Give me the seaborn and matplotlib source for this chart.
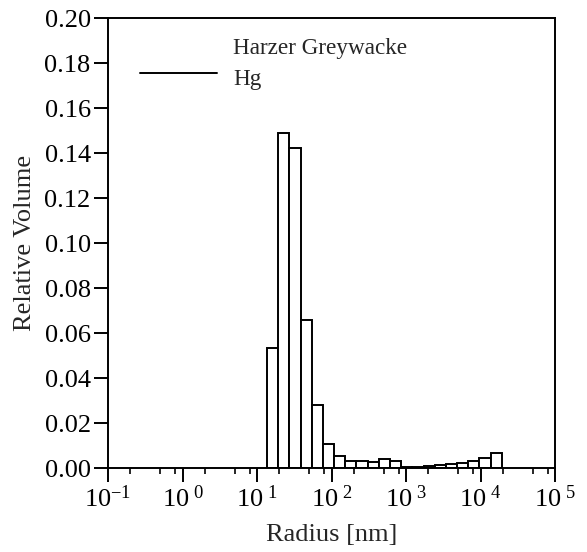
"""Relative volume pore-radius distribution, Harzer Greywacke (Hg porosimetry)."""

import matplotlib
matplotlib.use("Agg")
import matplotlib.pyplot as plt
from matplotlib.legend_handler import HandlerLine2D
from matplotlib.lines import Line2D
from matplotlib.ticker import FixedLocator, FixedFormatter
import numpy as np
import seaborn as sns


# bin edges in nm (log bins, ~sqrt(2) ratio) and relative volume per bin
bin_edges_nm = [13.65, 19.28, 27.23, 38.46, 54.33, 76.74, 108.4, 153.1, 216.3,
                305.5, 431.5, 609.5, 861.0, 1216.0, 1718.0, 2427.0, 3428.0,
                4842.0, 6839.0, 9661.0, 13646.0, 19275.0]
rel_volume = [0.0535, 0.1492, 0.1422, 0.0658, 0.0280, 0.0109, 0.0054, 0.0032,
              0.0031, 0.0027, 0.0040, 0.0033, 0.0004, 0.0007, 0.0010, 0.0013,
              0.0016, 0.0024, 0.0033, 0.0045, 0.0065]
x_major = [1e-1, 1e0, 1e1, 1e2, 1e3, 1e4, 1e5]
x_major_labels = [r"$10^{-1}$", r"$10^{\ 0}$", r"$10^{\ 1}$", r"$10^{\ 2}$",
                  r"$10^{\ 3}$", r"$10^{\ 4}$", r"$10^{\ 5}$"]
y_ticks = [0.00, 0.02, 0.04, 0.06, 0.08, 0.10, 0.12, 0.14, 0.16, 0.18, 0.20]
legend_title = "Harzer Greywacke"
legend_series = "Hg"

sns.set_style("ticks")
plt.rcParams["font.family"] = ["Liberation Serif", "DejaVu Serif"]
plt.rcParams["mathtext.fontset"] = "custom"
plt.rcParams["mathtext.rm"] = "Liberation Serif"
plt.rcParams["mathtext.it"] = "Liberation Serif:italic"
plt.rcParams["mathtext.default"] = "regular"

FS = 19


class RaisedLine(HandlerLine2D):
    """Legend line drawn a little higher than the text centre."""

    def create_artists(self, legend, orig_handle, xdescent, ydescent, width, height, fontsize, trans):
        artists = super().create_artists(legend, orig_handle, xdescent, ydescent,
                                         width, height, fontsize, trans)
        for art in artists:
            art.set_ydata(np.asarray(art.get_ydata()) + 0.18 * fontsize)
        return artists


edges = np.array(bin_edges_nm)
centers = np.sqrt(edges[:-1] * edges[1:])

fig = plt.figure(figsize=(5.87, 5.52), dpi=100)
ax = fig.add_axes([0.184, 0.152, 0.7615, 0.8148])

# seaborn bins in log space when log_scale=True
sns.histplot(x=centers, weights=rel_volume, bins=list(np.log10(edges)), log_scale=True,
             color="white", edgecolor="black", linewidth=1.4, alpha=1, ax=ax)

ax.set_xlim(1e-1, 1e5)
ax.set_ylim(0, 0.20)
ax.xaxis.set_major_locator(FixedLocator(x_major))
ax.xaxis.set_major_formatter(FixedFormatter(x_major_labels))
minor = [m * d for d in x_major[:-1] for m in (2, 5, 8)]
ax.xaxis.set_minor_locator(FixedLocator(minor))
ax.xaxis.set_minor_formatter(FixedFormatter([""] * len(minor)))
ax.set_yticks(y_ticks)
ax.set_yticklabels([f"{v:.2f}" for v in y_ticks])

ax.tick_params(axis="both", which="major", direction="out", length=10, width=1.4,
               labelsize=FS, color="black", labelcolor="black")
ax.tick_params(axis="x", which="major", pad=2.5)
ax.tick_params(axis="y", which="major", pad=2.5)
ax.tick_params(axis="x", which="minor", direction="out", length=4.3, width=1.4)
for side in ("left", "bottom", "top", "right"):
    ax.spines[side].set_visible(True)
    ax.spines[side].set_linewidth(1.4)
    ax.spines[side].set_color("black")

ax.set_xlabel("Radius [nm]", fontsize=FS, labelpad=9)
ax.set_ylabel("Relative Volume", fontsize=FS, labelpad=6)

handles = [Line2D([], [], color="none"), Line2D([], [], color="black", linewidth=1.4)]
ax.legend(handles, [legend_title, legend_series], loc="upper left",
          bbox_to_anchor=(140 / 587, 1 - 38 / 552), bbox_transform=fig.transFigure,
          frameon=False, fontsize=16.7, handlelength=3.3, handletextpad=0.72,
          labelspacing=0.43, borderpad=0, borderaxespad=0,
          handler_map={Line2D: RaisedLine()})

fig.savefig("out.png", dpi=100)
